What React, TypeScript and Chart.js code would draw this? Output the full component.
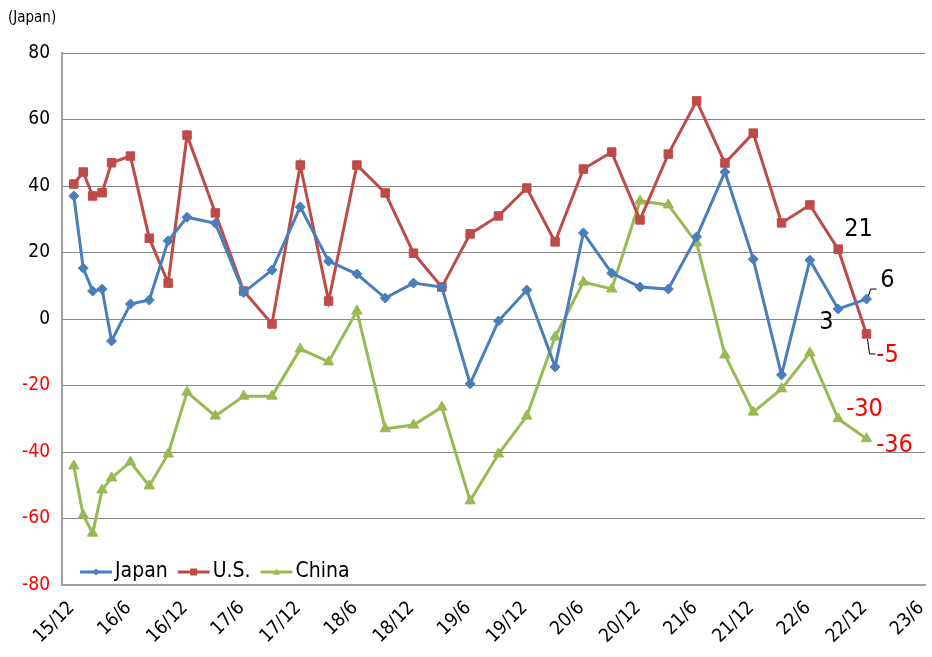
import React, { useEffect, useRef } from "react";
import Chart from "chart.js/auto";

// months since 2015/12
const months = [0, 1, 2, 3, 4, 6, 8, 10, 12, 15, 18, 21, 24, 27, 30, 33, 36, 39, 42, 45, 48, 51, 54, 57, 60, 63, 66, 69, 72, 75, 78, 81, 84];
const japan = [37, 15.3, 8.4, 9, -6.6, 4.5, 5.7, 23.5, 30.6, 28.8, 8, 14.7, 33.7, 17.4, 13.5, 6.3, 10.8, 9.6, -19.5, -0.6, 8.7, -14.4, 25.9, 13.8, 9.6, 9, 24.7, 44.2, 18, -16.8, 17.7, 3, 6];
const us = [40.6, 44.2, 37, 38, 47, 49, 24.3, 10.8, 55.3, 31.9, 8.4, -1.5, 46.3, 5.4, 46.3, 37.9, 19.8, 9.6, 25.6, 31, 39.4, 23.2, 45.1, 50.2, 29.8, 49.6, 65.6, 46.9, 55.9, 28.9, 34.3, 21, -4.5];
const china = [-44.2, -59, -64.4, -51.4, -47.8, -43, -50.2, -40.6, -22, -29.2, -23.2, -23.2, -9, -12.9, 2.4, -33, -31.9, -26.5, -54.7, -40.6, -29.2, -5.4, 11.1, 9, 35.5, 34.3, 22.9, -10.8, -28, -21, -10.2, -30, -36];
const tickLabels = ["15/12", "16/6", "16/12", "17/6", "17/12", "18/6", "18/12", "19/6", "19/12", "20/6", "20/12", "21/6", "21/12", "22/6", "22/12", "23/6"];

const FONT = "'DejaVu Sans Condensed', 'Liberation Sans', Arial, sans-serif";
const colors = { japan: "#4a7ebb", us: "#be4b48", china: "#98b954" };

function marker(ctx: CanvasRenderingContext2D, shape: string, x: number, y: number, r: number) {
  ctx.beginPath();
  if (shape === "rect") ctx.rect(x - r, y - r, 2 * r, 2 * r);
  else if (shape === "triangle") { ctx.moveTo(x, y - r); ctx.lineTo(x + r, y + r * 0.8); ctx.lineTo(x - r, y + r * 0.8); ctx.closePath(); }
  else { ctx.moveTo(x, y - r); ctx.lineTo(x + r, y); ctx.lineTo(x, y + r); ctx.lineTo(x - r, y); ctx.closePath(); }
  ctx.fill();
}

const extras = {
  id: "extras",
  afterDraw(chart: any) {
    const { ctx, scales } = chart;
    const xs = scales.x, ys = scales.y;
    ctx.save();
    // x tick labels, rotated
    ctx.font = `19px ${FONT}`;
    ctx.fillStyle = "#000";
    ctx.textAlign = "right";
    ctx.textBaseline = "middle";
    tickLabels.forEach((t, i) => {
      const x = xs.getPixelForValue(i * 6);
      ctx.save();
      ctx.translate(x - 2, ys.bottom + 20);
      ctx.rotate(-Math.PI / 4);
      ctx.fillText(t, 0, 0);
      ctx.restore();
    });
    ctx.textAlign = "left";
    ctx.font = `15px ${FONT}`;
    ctx.fillText("(Japan)", 8, 18);
    // value annotations
    const last = months[months.length - 1];
    const px = xs.getPixelForValue(last);
    ctx.font = `25px ${FONT}`;
    ctx.textAlign = "center";
    const notes: [string, string, number, number][] = [
      ["21", "#000", px - 8, ys.getPixelForValue(us[us.length - 2]) - 20],
      ["6", "#000", px + 21, ys.getPixelForValue(japan[japan.length - 1]) - 19],
      ["3", "#000", px - 40, ys.getPixelForValue(japan[japan.length - 2]) + 13],
      ["-5", "#ff0000", px + 21, ys.getPixelForValue(us[us.length - 1]) + 22],
      ["-30", "#ff0000", px - 2, ys.getPixelForValue(china[china.length - 2]) - 9],
      ["-36", "#ff0000", px + 28, ys.getPixelForValue(china[china.length - 1]) + 7],
    ];
    notes.forEach(([t, c, x, y]) => {
      ctx.fillStyle = c;
      ctx.fillText(t, x, y);
    });
    ctx.strokeStyle = "#000";
    ctx.lineWidth = 1;
    const y6 = ys.getPixelForValue(japan[japan.length - 1]);
    ctx.beginPath();
    ctx.moveTo(px + 2, y6 - 3); ctx.lineTo(px + 4, y6 - 10); ctx.lineTo(px + 10, y6 - 10);
    const y5 = ys.getPixelForValue(us[us.length - 1]);
    ctx.moveTo(px + 1, y5 + 5); ctx.lineTo(px + 3, y5 + 20); ctx.lineTo(px + 9, y5 + 20);
    ctx.stroke();
    // legend
    const ly = ys.bottom - 13;
    const items: [string, string, string][] = [["Japan", colors.japan, "rectRot"], ["U.S.", colors.us, "rect"], ["China", colors.china, "triangle"]];
    let lx = xs.left + 18;
    ctx.font = `21px ${FONT}`;
    ctx.textAlign = "left";
    items.forEach(([name, col, shape]) => {
      ctx.strokeStyle = col;
      ctx.lineWidth = 3;
      ctx.beginPath();
      ctx.moveTo(lx, ly); ctx.lineTo(lx + 32, ly);
      ctx.stroke();
      ctx.fillStyle = col;
      marker(ctx, shape, lx + 16, ly, 3.5);
      ctx.fillStyle = "#000";
      ctx.fillText(name, lx + 35, ly);
      lx += 35 + ctx.measureText(name).width + 10;
    });
    ctx.restore();
  },
};

const App = () => {
  const ref = useRef<HTMLCanvasElement>(null);

  useEffect(() => {
    if (!ref.current) return;
    const mk = (label: string, data: number[], color: string, style: string, r: number) => ({
      label,
      data: months.map((m, i) => ({ x: m, y: data[i] })),
      borderColor: color,
      backgroundColor: color,
      borderWidth: 3,
      pointStyle: style,
      pointRadius: r,
      pointBorderWidth: 1,
      tension: 0,
    });
    const chart = new Chart(ref.current, {
      type: "line",
      data: {
        datasets: [
          mk("Japan", japan, colors.japan, "rectRot", 5),
          mk("U.S.", us, colors.us, "rect", 6),
          mk("China", china, colors.china, "triangle", 6),
        ] as any,
      },
      options: {
        animation: false,
        responsive: false,
        layout: { padding: { top: 53, right: 1 } },
        plugins: { legend: { display: false }, tooltip: { enabled: false } },
        scales: {
          x: {
            type: "linear",
            min: -1.25,
            max: 90.2,
            afterBuildTicks: (s: any) => {
              s.ticks = tickLabels.map((_, i) => ({ value: i * 6 }));
            },
            afterFit: (s: any) => { s.height = 72; },
            grid: { display: false, drawTicks: false },
            border: { color: "#a0a0a0", width: 2 },
            ticks: { display: false },
          },
          y: {
            min: -80,
            max: 80,
            afterFit: (s: any) => { s.width = 62; },
            grid: { color: "#868686", lineWidth: 1, drawTicks: false },
            border: { color: "#a0a0a0", width: 2 },
            ticks: {
              stepSize: 20,
              padding: 12,
              font: { family: FONT, size: 19 },
              color: (c: any) => (c.tick.value < 0 ? "#ff0000" : "#000"),
            },
          },
        },
      },
      plugins: [extras],
    });
    return () => chart.destroy();
  }, []);

  return (
    <div style={{ position: "absolute", left: 0, top: 0, width: 932, height: 657, background: "#fff" }}>
      <canvas ref={ref} width={932} height={657} />
    </div>
  );
};

export default App;
